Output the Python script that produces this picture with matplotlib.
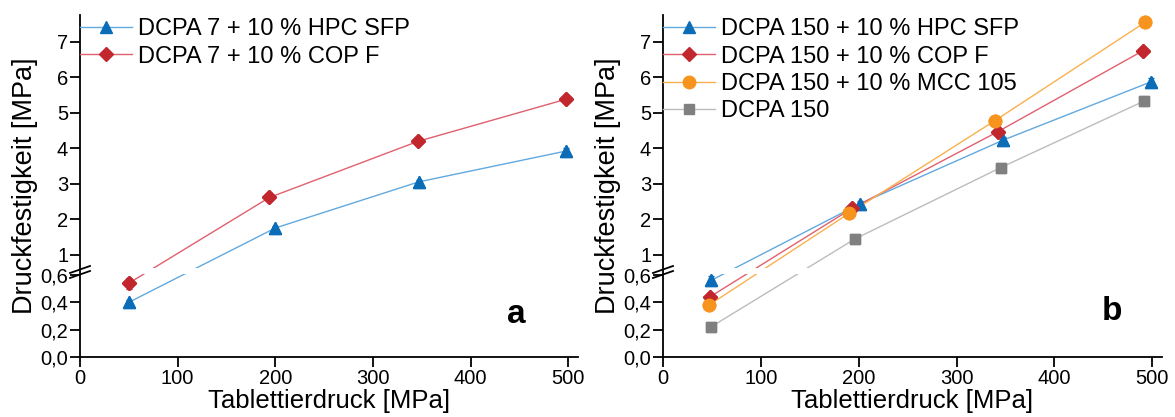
import numpy as np
import matplotlib
matplotlib.use('Agg')
import matplotlib.pyplot as plt

plt.rcParams['font.family'] = ['Liberation Sans', 'DejaVu Sans']

# PANEL A DATA
a_labels = ['DCPA 7 + 10 % HPC SFP', 'DCPA 7 + 10 % COP F']
a_x = [[50, 200, 347, 498],
       [50, 194, 346, 498]]
a_y = [[0.40, 1.76, 3.06, 3.93],
       [0.54, 2.62, 4.20, 5.39]]
a_err = [[0.02, 0.06, 0.06, 0.08],
         [0.04, 0.05, 0.05, 0.06]]

# PANEL B DATA
b_labels = ['DCPA 150 + 10 % HPC SFP', 'DCPA 150 + 10 % COP F',
            'DCPA 150 + 10 % MCC 105', 'DCPA 150']
b_x = [[49, 201, 348, 499],
       [48, 193, 342, 491],
       [47, 190, 339, 493],
       [49, 196, 345, 492]]
b_y = [[0.56, 2.44, 4.24, 5.88],
       [0.44, 2.31, 4.47, 6.76],
       [0.38, 2.17, 4.78, 7.56],
       [0.22, 1.45, 3.46, 5.34]]
b_err = [[0.03, 0.08, 0.08, 0.1],
         [0.02, 0.06, 0.06, 0.06],
         [0.02, 0.08, 0.06, 0.06],
         [0.01, 0.04, 0.04, 0.05]]

# colours: marker, line
markers = ['^', 'D', 'o', 's']
msizes = [9, 7.5, 9, 7]
dark = ['#0b6cb8', '#c1272d', '#f7941d', '#808080']
light = ['#62a9df', '#e0606e', '#f9b04e', '#bcbcbc']

yticks = [0.0, 0.2, 0.4, 0.6, 1, 2, 3, 4, 5, 6, 7]
yticklabels = ['0,0', '0,2', '0,4', '0,6', '1', '2', '3', '4', '5', '6', '7']

# broken y axis: lower 0-0.6 stretched, upper 1-7 compressed
A = 136.67
B = 102.0
C = 35.5
Y0 = (B - C) / (A - C)


def fwd(y):
    y = np.asarray(y, dtype=float)
    return np.where(y < Y0, A * y, B + C * (y - 1))


def inv(t):
    t = np.asarray(t, dtype=float)
    return np.where(t < A * Y0, t / A, 1 + (t - B) / C)


fig = plt.figure(figsize=(11.75, 4.17), dpi=100)
ax_a = fig.add_axes([80 / 1175, 60 / 417, 498 / 1175, 342 / 417])
ax_b = fig.add_axes([663 / 1175, 60 / 417, 499 / 1175, 342 / 417])


def draw(ax, xs, ys, errs, labels, tag, tagpos):
    for i in range(len(xs)):
        ax.plot(xs[i], ys[i], color=light[i], lw=1.0, marker=markers[i],
                ms=msizes[i], mfc=dark[i], mec=dark[i], label=labels[i], zorder=2)
    ax.set_yscale('function', functions=(fwd, inv))
    ax.set_ylim(0, 7.76)
    ax.set_xlim(0, 510)
    tmax = float(fwd(7.76))
    # white band hiding the lines at the break
    ax.axhspan(float(inv(83)), float(inv(89)), xmin=0.006, xmax=1,
               color='white', zorder=3, lw=0)
    for i in range(len(xs)):
        ax.errorbar(xs[i], ys[i], yerr=errs[i], fmt=markers[i], ms=msizes[i],
                    color=dark[i], elinewidth=1, capsize=2.5, zorder=4)
    # break marks
    w = 10 / 498
    for tt in (82.5, 87.5):
        ax.plot([-w, w], [(tt - 3.5) / tmax, (tt + 3.5) / tmax], transform=ax.transAxes,
                color='black', lw=1.3, clip_on=False, zorder=5)
    ax.set_yticks(yticks)
    ax.set_yticklabels(yticklabels)
    ax.set_xticks([0, 100, 200, 300, 400, 500])
    ax.minorticks_off()
    ax.spines['top'].set_visible(False)
    ax.spines['right'].set_visible(False)
    for s in ('left', 'bottom'):
        ax.spines[s].set_linewidth(1.3)
    ax.tick_params(direction='out', length=7, width=1.3, labelsize=14.5, pad=1.5)
    ax.set_xlabel('Tablettierdruck [MPa]', fontsize=18.5, labelpad=1)
    ax.set_ylabel('Druckfestigkeit [MPa]', fontsize=19.5, labelpad=2)
    ax.legend(loc='upper left', bbox_to_anchor=(0, 0.99), frameon=False,
              fontsize=17, borderpad=0, borderaxespad=0, handlelength=2.2,
              handletextpad=0.25, labelspacing=0.22)
    ax.text(tagpos[0], tagpos[1], tag, transform=ax.transAxes, fontsize=24,
            fontweight='bold', ha='center', va='center')


draw(ax_a, a_x, a_y, a_err, a_labels, 'a', (0.877, 0.125))
draw(ax_b, b_x, b_y, b_err, b_labels, 'b', (0.90, 0.132))

fig.savefig('out.png', dpi=100)
